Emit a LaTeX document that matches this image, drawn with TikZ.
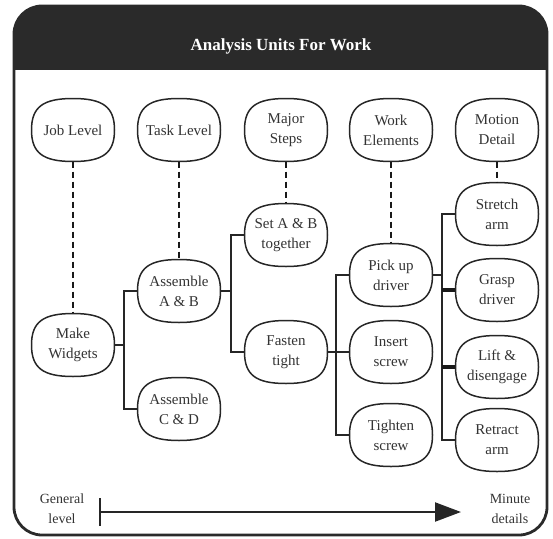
\documentclass[tikz,border=0pt]{standalone}
\usepackage{fontspec}
\setmainfont{Liberation Serif}
\usetikzlibrary{arrows.meta,calc}
\definecolor{hdr}{HTML}{2A2A2A}
\tikzset{
  boxtext/.style={minimum width=83pt, minimum height=63pt, inner sep=2pt, align=center, font=\fontsize{15}{20}\selectfont, text=black!80},
  boxline/.style={draw=black!85, line width=1.5pt},
  conn/.style={draw=black!85, line width=1.5pt},
  dashline/.style={draw=black!90, line width=2pt, dash pattern=on 6pt off 4pt},
  thickconn/.style={draw=black!90, line width=4pt},
  lbl/.style={align=center, font=\fontsize{14}{20}\selectfont, text=black!80}
}
% oval node: name, position, text
\newcommand\ovalbox[3]{%
  \node[boxtext] (#1) at (#2) {#3};
  \draw[boxline] ($(#1.center)+(0pt,31.5pt)$)
    .. controls ($(#1.center)+(30pt,31.5pt)$) and ($(#1.center)+(41.5pt,23pt)$) .. ($(#1.center)+(41.5pt,0pt)$)
    .. controls ($(#1.center)+(41.5pt,-23pt)$) and ($(#1.center)+(30pt,-31.5pt)$) .. ($(#1.center)+(0pt,-31.5pt)$)
    .. controls ($(#1.center)+(-30pt,-31.5pt)$) and ($(#1.center)+(-41.5pt,-23pt)$) .. ($(#1.center)+(-41.5pt,0pt)$)
    .. controls ($(#1.center)+(-41.5pt,23pt)$) and ($(#1.center)+(-30pt,31.5pt)$) .. cycle;
}
\begin{document}
\begin{tikzpicture}[x=1pt,y=-1pt]
\useasboundingbox (0,0) rectangle (553,538);
% header band
\begin{scope}
\clip (0,0) rectangle (553,69);
\fill[hdr, rounded corners=30pt] (14,6) rectangle (547,535);
\end{scope}
\draw[hdr, line width=2.8pt, rounded corners=28pt] (14,6) rectangle (547,535);
\draw[hdr, line width=1.5pt] (14,69) -- (547,69);
\node[text=white, font=\bfseries\fontsize{17}{20}\selectfont] (title) at (281,46) {Analysis Units For Work};

% header row
\ovalbox{JL}{73,130}{Job Level}
\ovalbox{TL}{179,130}{Task Level}
\ovalbox{MS}{286,130}{Major\\Steps}
\ovalbox{WE}{391,130}{Work\\Elements}
\ovalbox{MD}{497,130}{Motion\\Detail}

% tree nodes
\ovalbox{MW}{73,345}{Make\\Widgets}
\ovalbox{AAB}{179,291}{Assemble\\A \& B}
\ovalbox{ACD}{179,409}{Assemble\\C \& D}
\ovalbox{SAB}{286,235}{Set A \& B\\together}
\ovalbox{FT}{286,352}{Fasten\\tight}
\ovalbox{PUD}{391,275}{Pick up\\driver}
\ovalbox{IS}{391,352}{Insert\\screw}
\ovalbox{TS}{391,435}{Tighten\\screw}
\ovalbox{SA}{497,214}{Stretch\\arm}
\ovalbox{GD}{497,290}{Grasp\\driver}
\ovalbox{LD}{497,367}{Lift \&\\disengage}
\ovalbox{RA}{497,440}{Retract\\arm}

% dashed level lines
\draw[dashline] (JL.south) -- (MW.north);
\draw[dashline] (TL.south) -- (AAB.north);
\draw[dashline] (MS.south) -- (SAB.north);
\draw[dashline] (WE.south) -- (PUD.north);
\draw[dashline] (MD.south) -- (SA.north);

% buses
\coordinate (b1) at (124,0);
\coordinate (b2) at (231,0);
\coordinate (b3) at (336,0);
\coordinate (b4) at (442,0);

\draw[conn] (MW.east) -- (MW.east -| b1);
\draw[conn] (AAB.west) -| (b1 |- ACD.west) -- (ACD.west);

\draw[conn] (AAB.east) -- (AAB.east -| b2);
\draw[conn] (SAB.west) -| (b2 |- FT.west) -- (FT.west);

\draw[conn] (FT.east) -- (IS.west);
\draw[conn] (PUD.west) -| (b3 |- TS.west) -- (TS.west);

\draw[conn] (PUD.east) -- (PUD.east -| b4);
\draw[conn] (SA.west) -| (b4 |- RA.west) -- (RA.west);
\draw[thickconn] (GD.west) -- (GD.west -| b4);
\draw[thickconn] (LD.west) -- (LD.west -| b4);

% bottom scale
\node[lbl] (GL) at (62,509) {General\\level};
\node[lbl] (MDt) at (510,509) {Minute\\details};
\coordinate (as) at (100,512);
\coordinate (ae) at (461,512);
\draw[line width=2.2pt, black!85] (100,498) -- (100,526);
\draw[line width=2.2pt, black!85, -{Triangle[length=26pt,width=19pt]}] (as) -- (ae);
\end{tikzpicture}
\end{document}
